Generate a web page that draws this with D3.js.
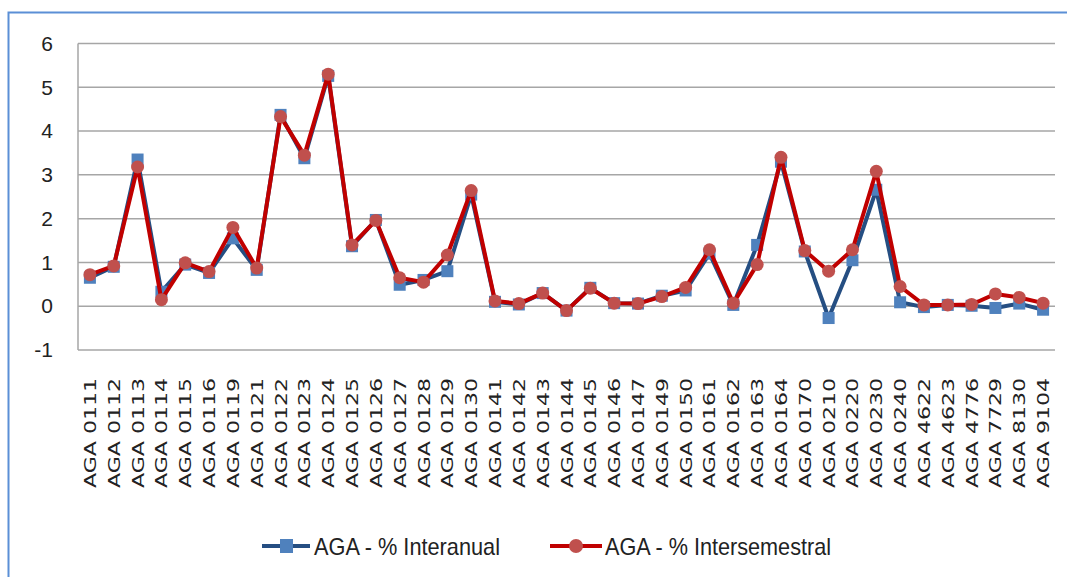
<!DOCTYPE html>
<html>
<head>
<meta charset="utf-8">
<script src="https://cdn.jsdelivr.net/npm/d3@7"></script>
<style>
  body { margin: 0; background: #fff; }
  svg { display: block; }
</style>
</head>
<body>
<div id="chart"></div>
<script>
// categories and series
var categories = ['AGA 0111', 'AGA 0112', 'AGA 0113', 'AGA 0114', 'AGA 0115', 'AGA 0116', 'AGA 0119',
    'AGA 0121', 'AGA 0122', 'AGA 0123', 'AGA 0124', 'AGA 0125', 'AGA 0126', 'AGA 0127', 'AGA 0128',
    'AGA 0129', 'AGA 0130', 'AGA 0141', 'AGA 0142', 'AGA 0143', 'AGA 0144', 'AGA 0145', 'AGA 0146',
    'AGA 0147', 'AGA 0149', 'AGA 0150', 'AGA 0161', 'AGA 0162', 'AGA 0163', 'AGA 0164', 'AGA 0170',
    'AGA 0210', 'AGA 0220', 'AGA 0230', 'AGA 0240', 'AGA 4622', 'AGA 4623', 'AGA 4776', 'AGA 7729',
    'AGA 8130', 'AGA 9104'];
var interanual = [0.65, 0.9, 3.35, 0.33, 0.95, 0.76, 1.55, 0.83, 4.37, 3.38, 5.26, 1.37, 1.97, 0.49, 0.6,
    0.8, 2.55, 0.1, 0.04, 0.3, -0.1, 0.42, 0.07, 0.06, 0.24, 0.36, 1.2, 0.03, 1.4, 3.3, 1.25,
    -0.27, 1.05, 2.66, 0.09, -0.02, 0.03, 0.01, -0.04, 0.06, -0.08];
var intersemestral = [0.72, 0.92, 3.18, 0.15, 0.99, 0.79, 1.8, 0.87, 4.33, 3.45, 5.3, 1.4, 1.96, 0.65, 0.55,
    1.17, 2.64, 0.12, 0.06, 0.3, -0.1, 0.41, 0.07, 0.06, 0.22, 0.43, 1.29, 0.07, 0.95, 3.4, 1.27,
    0.8, 1.29, 3.08, 0.45, 0.03, 0.03, 0.04, 0.28, 0.2, 0.07];
var yTicks = [-1, 0, 1, 2, 3, 4, 5, 6];
var seriesNames = ['AGA - % Interanual', 'AGA - % Intersemestral'];

var width = 1067, height = 577;
var plot = {left: 78, right: 1055, top: 43.5, bottom: 350};

var svg = d3.select('#chart').append('svg')
    .attr('width', width)
    .attr('height', height);

// outer chart border (runs off the right and bottom edge)
svg.append('rect')
    .attr('x', 8.5).attr('y', 12.5)
    .attr('width', width).attr('height', height)
    .attr('fill', 'none')
    .attr('stroke', '#5b8fd6')
    .attr('stroke-width', 2);

var x = d3.scaleBand()
    .domain(categories)
    .range([plot.left, plot.right]);

var y = d3.scaleLinear()
    .domain([-1, 6])
    .range([plot.bottom, plot.top]);

// gridlines
svg.append('g')
    .selectAll('line')
    .data(yTicks)
    .join('line')
    .attr('x1', plot.left).attr('x2', plot.right)
    .attr('y1', function (d) { return y(d); })
    .attr('y2', function (d) { return y(d); })
    .attr('stroke', '#a6a6a6')
    .attr('stroke-width', 1.5);

// left axis line
svg.append('line')
    .attr('x1', plot.left).attr('x2', plot.left)
    .attr('y1', plot.top).attr('y2', plot.bottom)
    .attr('stroke', '#a6a6a6')
    .attr('stroke-width', 1.5);

// y tick labels (plain hyphen for the minus, like the original)
var yAxis = svg.append('g')
    .attr('transform', 'translate(' + plot.left + ',0)')
    .call(d3.axisLeft(y).tickValues(yTicks)
        .tickFormat(function (d) { return String(d); })
        .tickSize(0).tickPadding(25));
yAxis.select('.domain').remove();
yAxis.selectAll('text')
    .attr('font-family', 'Liberation Sans, Arial, sans-serif')
    .attr('font-size', 21)
    .attr('fill', '#222');

// x tick labels, rotated
svg.append('g')
    .selectAll('text')
    .data(categories)
    .join('text')
    .attr('transform', function (d) {
        return 'translate(' + (x(d) + x.bandwidth() / 2 + 6) + ',378) rotate(-90)';
    })
    .attr('text-anchor', 'end')
    .attr('font-family', 'DejaVu Sans, sans-serif')
    .attr('font-size', 16)
    .attr('textLength', 110)
    .attr('lengthAdjust', 'spacingAndGlyphs')
    .attr('fill', '#222')
    .text(function (d) { return d; });

var line = d3.line()
    .x(function (d, i) { return x(categories[i]) + x.bandwidth() / 2; })
    .y(function (d) { return y(d); });

// blue series
svg.append('path')
    .datum(interanual)
    .attr('d', line)
    .attr('fill', 'none')
    .attr('stroke', '#254e82')
    .attr('stroke-width', 4)
    .attr('stroke-linejoin', 'round');
svg.append('g')
    .selectAll('rect')
    .data(interanual)
    .join('rect')
    .attr('x', function (d, i) { return x(categories[i]) + x.bandwidth() / 2 - 6; })
    .attr('y', function (d) { return y(d) - 6; })
    .attr('width', 12).attr('height', 12)
    .attr('fill', '#4f81bd');

// red series
svg.append('path')
    .datum(intersemestral)
    .attr('d', line)
    .attr('fill', 'none')
    .attr('stroke', '#c00000')
    .attr('stroke-width', 4)
    .attr('stroke-linejoin', 'round');
svg.append('g')
    .selectAll('circle')
    .data(intersemestral)
    .join('circle')
    .attr('cx', function (d, i) { return x(categories[i]) + x.bandwidth() / 2; })
    .attr('cy', function (d) { return y(d); })
    .attr('r', 6.5)
    .attr('fill', '#c0504d');

// legend
var legendY = 546;
var lg = svg.append('g');
lg.append('line')
    .attr('x1', 262).attr('x2', 310).attr('y1', legendY).attr('y2', legendY)
    .attr('stroke', '#254e82').attr('stroke-width', 4);
lg.append('rect')
    .attr('x', 280).attr('y', legendY - 7).attr('width', 13).attr('height', 14)
    .attr('fill', '#4f81bd');
lg.append('text')
    .attr('x', 314).attr('y', legendY + 9)
    .attr('font-family', 'Liberation Sans, Arial, sans-serif')
    .attr('font-size', 24)
    .attr('textLength', 186)
    .attr('lengthAdjust', 'spacingAndGlyphs')
    .attr('fill', '#222')
    .text(seriesNames[0]);
lg.append('line')
    .attr('x1', 550).attr('x2', 602).attr('y1', legendY).attr('y2', legendY)
    .attr('stroke', '#c00000').attr('stroke-width', 4);
lg.append('circle')
    .attr('cx', 576).attr('cy', legendY).attr('r', 7)
    .attr('fill', '#c0504d');
lg.append('text')
    .attr('x', 605).attr('y', legendY + 9)
    .attr('font-family', 'Liberation Sans, Arial, sans-serif')
    .attr('font-size', 24)
    .attr('textLength', 226)
    .attr('lengthAdjust', 'spacingAndGlyphs')
    .attr('fill', '#222')
    .text(seriesNames[1]);
</script>
</body>
</html>
